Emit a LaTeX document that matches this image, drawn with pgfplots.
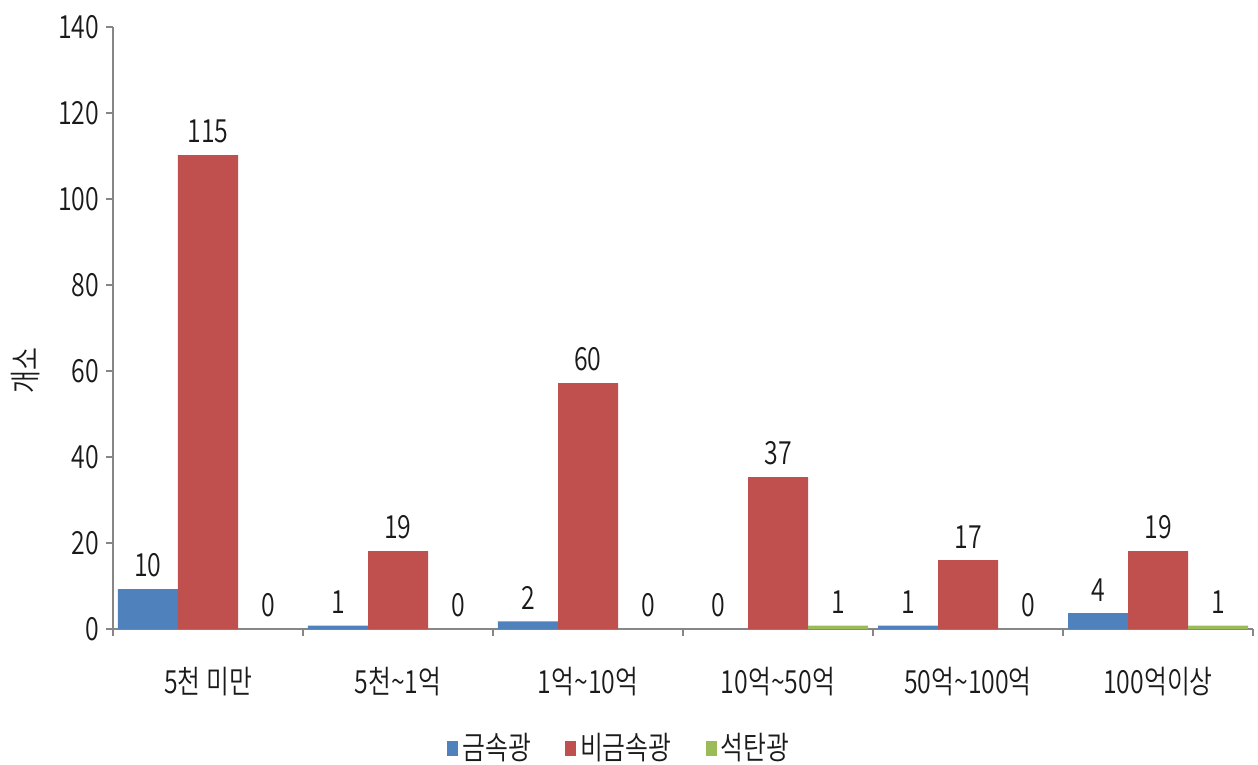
\documentclass[border=0pt]{standalone}
\usepackage{fontspec}
\setmainfont{Noto Sans CJK KR DemiLight}[FakeStretch=0.78]
\usepackage{pgfplots}
\pgfplotsset{compat=1.18}
\definecolor{cblue}{HTML}{4F81BD}
\definecolor{cred}{HTML}{C0504D}
\definecolor{cgreen}{HTML}{9BBB59}
\definecolor{axisgray}{HTML}{868686}
\definecolor{txt}{HTML}{1A1A1A}
\newcommand{\lblfont}{\fontsize{16}{18}\selectfont}
\begin{document}
\begin{tikzpicture}
\path[use as bounding box] (-56.5bp,-68bp) rectangle (572.5bp,314.5bp);
\begin{axis}[
    scale only axis, width=570bp, height=301bp,
    xmin=-0.5, xmax=5.5, ymin=0, ymax=140,
    axis x line*=bottom, axis y line*=left,
    axis line style={draw=axisgray, line width=0.8bp},
    tick align=outside,
    major tick length=3.5bp,
    ytick={0,20,...,140},
    ytick style={draw=axisgray, line width=0.8bp},
    xtick={0,...,5},
    xticklabels={5천 미만,5천\textasciitilde 1억,1억\textasciitilde 10억,10억\textasciitilde 50억,50억\textasciitilde 100억,100억이상},
    xtick style={draw=none},
    extra x ticks={-0.5,0.5,...,5.5},
    extra x tick labels={},
    extra x tick style={xtick style={draw=axisgray, line width=0.8bp}},
    /pgf/number format/assume math mode=true,
    tick label style={font=\lblfont, text=txt},
    xticklabel style={yshift=-12bp},
    ylabel={개소},
    ylabel style={font=\lblfont, text=txt, at={(axis description cs:-0.077,0.43)}, anchor=center},
    ybar=0pt, bar width=30bp,
    nodes near coords,
    point meta=explicit symbolic,
    nodes near coords style={font=\lblfont, text=txt, yshift=2.5bp},
    legend style={at={(axis description cs:0.445,-0.198)}, anchor=center, draw=none,
        font=\lblfont, text=txt,
        /tikz/every even column/.append style={column sep=15bp}},
    legend columns=-1,
    legend image code/.code={\fill[#1] (0bp,-3.7bp) rectangle (5.5bp,3.7bp);},
]
\addplot[fill=cblue, draw=none] coordinates {
    (0,9.3) [10] (1,0.8) [1] (2,1.8) [2] (3,0) [0] (4,0.8) [1] (5,3.7) [4]
};
\addlegendentry{금속광}
\addplot[fill=cred, draw=none] coordinates {
    (0,110.2) [115] (1,18.1) [19] (2,57.2) [60] (3,35.3) [37] (4,16.0) [17] (5,18.1) [19]
};
\addlegendentry{비금속광}
\addplot[fill=cgreen, draw=none] coordinates {
    (0,0) [0] (1,0) [0] (2,0) [0] (3,0.8) [1] (4,0) [0] (5,0.8) [1]
};
\addlegendentry{석탄광}
\end{axis}
\end{tikzpicture}
\end{document}
